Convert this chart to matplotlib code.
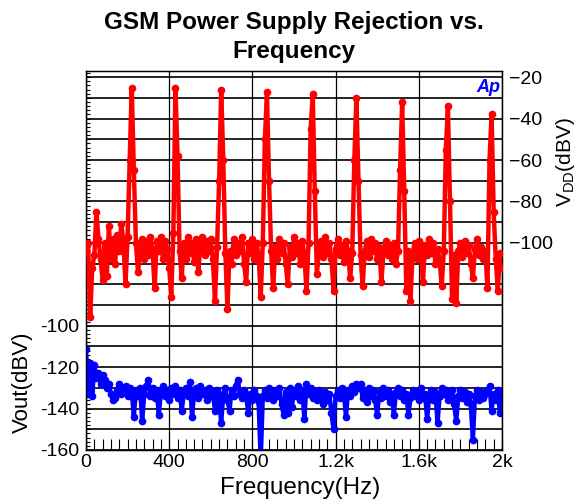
import numpy as np
import matplotlib
matplotlib.use('Agg')
import matplotlib.pyplot as plt
from matplotlib.ticker import FixedLocator, MultipleLocator, FuncFormatter

plt.rcParams['font.family'] = ['Liberation Sans', 'DejaVu Sans']

# frequency grid (Hz), 10 Hz step
freq = np.arange(0, 2001, 10)

# VDD ripple (dBV, right axis)
vdd = [
    -104, -100, -136, -112, -106, -85, -98, -108, -118, -100,
    -116, -92, -108, -98, -110, -96, -104, -91, -100, -120,
    -97, -60, -25, -65, -100, -114, -104, -98, -108, -99,
    -106, -97, -104, -122, -99, -104, -97, -108, -99, -103,
    -112, -126, -95, -25, -58, -104, -117, -100, -108, -97,
    -105, -100, -109, -98, -114, -101, -97, -106, -99, -104,
    -98, -108, -128, -102, -70, -26, -60, -105, -132, -104,
    -110, -98, -106, -100, -104, -97, -110, -119, -100, -105,
    -98, -108, -100, -106, -126, -100, -50, -27, -70, -104,
    -122, -102, -108, -98, -105, -100, -110, -120, -102, -107,
    -97, -105, -100, -110, -99, -106, -123, -100, -45, -28,
    -75, -115, -104, -99, -107, -97, -105, -100, -108, -123,
    -103, -98, -106, -101, -109, -99, -104, -117, -105, -60,
    -30, -70, -106, -121, -104, -99, -107, -98, -104, -100,
    -108, -102, -119, -105, -99, -106, -101, -108, -100, -110,
    -104, -65, -32, -75, -123, -104, -128, -105, -100, -108,
    -99, -104, -119, -101, -106, -98, -105, -100, -110, -103,
    -108, -121, -104, -55, -34, -80, -127, -106, -129, -104,
    -100, -107, -99, -105, -101, -110, -117, -103, -98, -106,
    -102, -108, -104, -122, -60, -38, -85, -108, -123, -105,
    -112,
]

# Vout (dBV, left axis)
vout = [
    -111, -133, -118, -134, -119, -125, -123, -128, -124, -126,
    -130, -128, -133, -136, -135, -131, -128, -133, -130, -129,
    -134, -130, -132, -144, -131, -134, -130, -146, -133, -129,
    -126, -134, -130, -135, -131, -143, -132, -129, -134, -131,
    -136, -130, -133, -129, -135, -131, -141, -133, -130, -134,
    -127, -144, -132, -130, -135, -129, -133, -131, -136, -130,
    -134, -132, -141, -131, -135, -147, -133, -130, -136, -141,
    -131, -134, -129, -126, -133, -135, -131, -134, -142, -133,
    -136, -131, -134, -137, -165, -134, -131, -135, -130, -133,
    -136, -131, -134, -130, -138, -143, -132, -142, -130, -139,
    -131, -134, -129, -136, -131, -145, -128, -133, -130, -135,
    -132, -136, -131, -134, -138, -132, -136, -133, -142, -150,
    -134, -131, -135, -130, -133, -144, -131, -134, -129, -132,
    -128, -130, -128, -135, -131, -137, -130, -134, -131, -136,
    -143, -132, -135, -130, -134, -131, -137, -133, -143, -132,
    -130, -134, -131, -136, -133, -143, -135, -131, -134, -132,
    -136, -130, -135, -133, -145, -134, -131, -136, -132, -147,
    -134, -130, -133, -131, -136, -132, -131, -138, -146, -134,
    -131, -135, -132, -137, -133, -138, -155, -134, -131, -136,
    -132, -135, -133, -131, -129, -141, -133, -136, -131, -142,
    -133,
]

xticks = [0, 400, 800, 1200, 1600, 2000]
xticklabels = ['0', '400', '800', '1.2k', '1.6k', '2k']
left_labeled = [-160, -140, -120, -100]
right_ticks = [-100, -80, -60, -40, -20]

W, H = 578, 504
fig = plt.figure(figsize=(W / 100, H / 100), dpi=100)
ax = fig.add_axes([86 / W, 1 - 450 / H, 416 / W, 379 / H])
ax2 = ax.twinx()

ax.plot(freq, vout, color='#0000ff', lw=3.2, marker='o', ms=4.5, zorder=3)
ax2.plot(freq, vdd, color='#ff0000', lw=3.2, marker='o', ms=4.5, zorder=3)

ax.set_xlim(0, 2000)
ax.set_ylim(-160, 23)
ax2.set_ylim(-200, -17)

ax.set_xticks(xticks)
ax.set_xticklabels(xticklabels)
ax.xaxis.set_minor_locator(MultipleLocator(40))
ax.tick_params(axis='x', which='both', direction='in', length=8, width=0.8,
               labelsize=14, pad=3)

ax.yaxis.set_major_locator(FixedLocator(np.arange(-160, 21, 10)))
ax.yaxis.set_major_formatter(FuncFormatter(
    lambda v, p: '%d' % v if int(round(v)) in left_labeled else ''))
ax.yaxis.set_minor_locator(MultipleLocator(2))
ax.tick_params(axis='y', which='both', direction='in', length=3, width=0.8,
               labelsize=14, pad=5)

ax2.set_yticks(right_ticks)
ax2.tick_params(axis='y', length=0, labelsize=14, pad=5)

ax.grid(True, axis='y', which='major', color='black', lw=1.2)
ax.grid(True, axis='x', which='major', color='black', lw=0.9)
ax.set_axisbelow(True)

for a in (ax, ax2):
    for s in a.spines.values():
        s.set_linewidth(0.9)

ax.set_xlabel('Frequency(Hz)', fontsize=17.5)
ax.xaxis.set_label_coords(0.515, -0.07)
ax.set_ylabel('Vout(dBV)', fontsize=16)
ax.yaxis.set_label_coords(-0.128, 0.18)
ax2.set_ylabel(r'V$_{\mathregular{DD}}$(dBV)', fontsize=15)
ax2.yaxis.set_label_coords(1.125, 0.76)

ax.text(0.995, 0.978, 'Ap', transform=ax.transAxes, ha='right', va='top',
        color='#0000ff', fontsize=13, fontweight='bold', style='italic',
        zorder=5)

fig.text(294 / W, 1 - 37 / H, 'GSM Power Supply Rejection vs.\nFrequency',
         ha='center', va='center', fontsize=17.5, fontweight='bold',
         linespacing=1.3)

fig.savefig('out.png', dpi=100)
